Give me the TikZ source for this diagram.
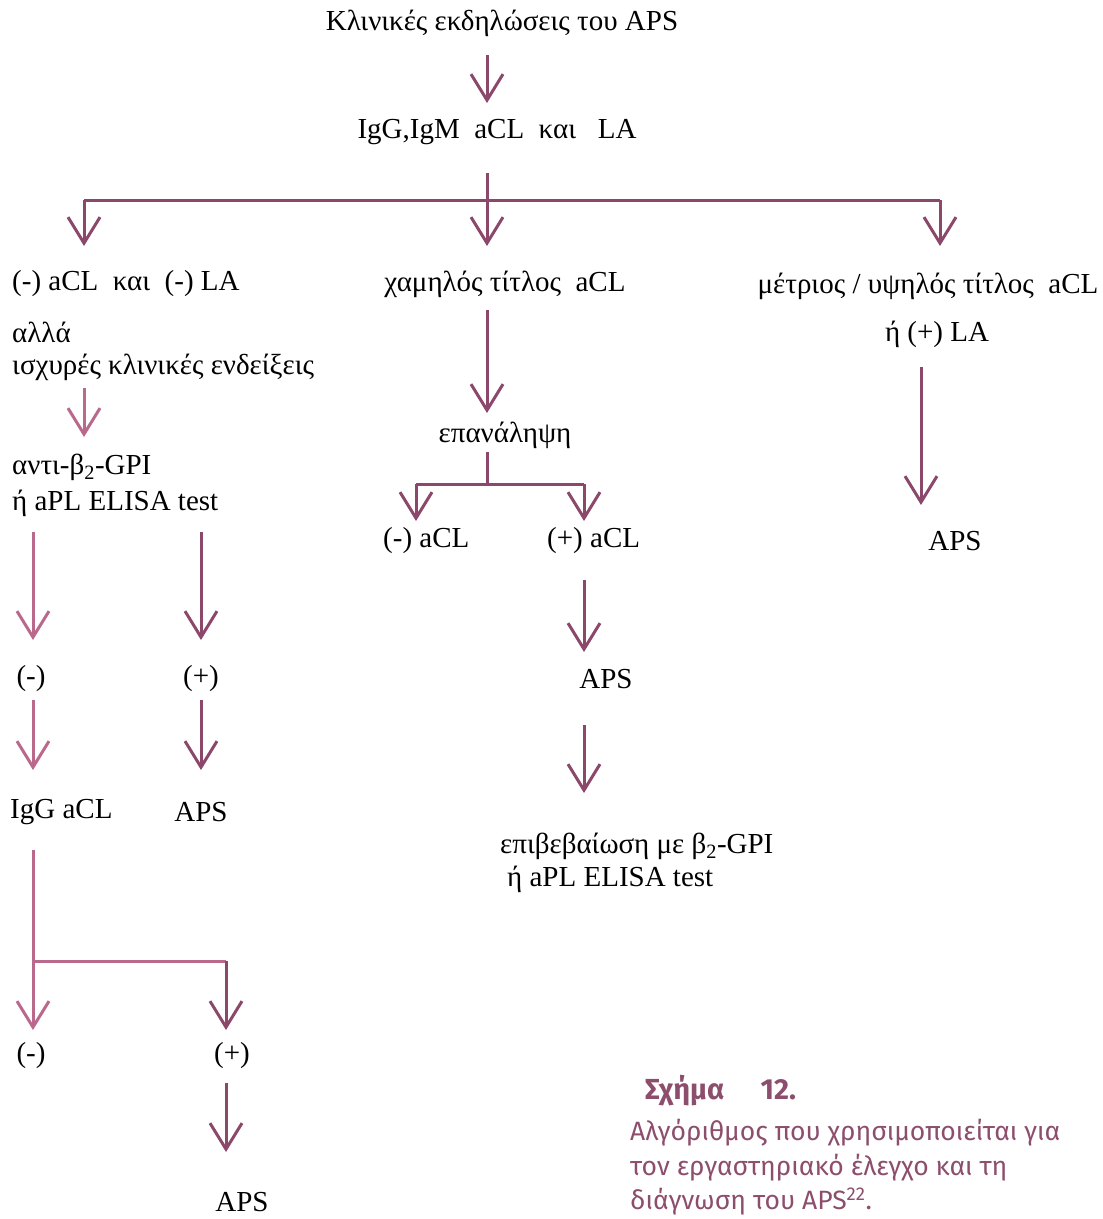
\documentclass[tikz,border=0pt]{standalone}
\usepackage{fontspec}
\setmainfont{Liberation Serif}
\newfontfamily\capfont{Fira Sans}
\usetikzlibrary{arrows.meta}
\definecolor{arr}{RGB}{140,72,106}
\definecolor{arrl}{RGB}{185,105,140}
\definecolor{capc}{RGB}{140,78,108}
\tikzset{
  lbl/.style={font=\fontsize{29}{34}\selectfont, inner sep=0pt},
  lblw/.style={lbl, anchor=west},
  conn/.style={draw=arr, line width=3pt, -{Straight Barb[length=26pt,width=32pt,line width=3pt]}},
  connl/.style={conn, draw=arrl, -{Straight Barb[length=26pt,width=32pt,line width=3pt]}},
  plain/.style={draw=arr, line width=3pt},
  plainl/.style={draw=arrl, line width=3pt},
  captxt/.style={font=\capfont\fontsize{26.5}{31}\selectfont, text=capc, anchor=west, inner sep=0pt}
}
\begin{document}
\begin{tikzpicture}[x=1pt,y=-1pt]
\useasboundingbox (0,0) rectangle (1103,1219);
% texts
\node[lbl] (t0) at (502,23) {Κλινικές εκδηλώσεις του APS};
\node[lbl] (t1) at (497,132) {IgG,IgM\ \ aCL\ \ και\ \ \ LA};
\node[lblw] (l1) at (12,284) {(-) aCL\ \ και\ \ (-) LA};
\node[lblw] (l2) at (12,332) {αλλά};
\node[lblw] (l3) at (12,367) {ισχυρές κλινικές ενδείξεις};
\node[lblw] (l4) at (12,467) {αντι-β\textsubscript{2}-GPI};
\node[lblw] (l5) at (12,503) {ή aPL ELISA test};
\node[lbl] (c1) at (505,284) {χαμηλός τίτλος\ \ aCL};
\node[lbl] (r1) at (928,286) {μέτριος / υψηλός τίτλος\ \ aCL};
\node[lbl] (r2) at (937,334) {ή (+) LA};
\node[lbl] (c2) at (505,435) {επανάληψη};
\node[lblw] (c3) at (383,541) {(-) aCL};
\node[lblw] (c4) at (547,541) {(+) aCL};
\node[lbl] (c5) at (606,679) {APS};
\node[lblw] (c6) at (500,846) {επιβεβαίωση με β\textsubscript{2}-GPI};
\node[lblw] (c7) at (507,879) {ή aPL ELISA test};
\node[lbl] (r3) at (955,541) {APS};
\node[lbl] (m1) at (31,679) {(-)};
\node[lbl] (p1) at (201,679) {(+)};
\node[lblw] (m2) at (10,812) {IgG aCL};
\node[lbl] (p2) at (201,812) {APS};
\node[lbl] (m3) at (31,1056) {(-)};
\node[lbl] (p3) at (232,1056) {(+)};
\node[lbl] (p4) at (242,1202) {APS};
% caption
\node[captxt, font=\capfont\bfseries\fontsize{29}{34}\selectfont] (cap1) at (645,1091) {Σχήμα\hspace{1.25em}12.};
\node[captxt] (cap2) at (630,1133) {Αλγόριθμος που χρησιμοποιείται για};
\node[captxt] (cap3) at (630,1168) {τον εργαστηριακό έλεγχο και τη};
\node[captxt] (cap4) at (630,1202) {διάγνωση του APS\textsuperscript{22}.};
% connector coordinates
\coordinate (a0s) at (487,55); \coordinate (a0e) at (487,103);
\coordinate (b0) at (487,173); \coordinate (b1) at (487,246);
\coordinate (bl) at (84,200); \coordinate (bl2) at (84,246);
\coordinate (br) at (940,200); \coordinate (br2) at (940,246);
\coordinate (d0) at (84,388); \coordinate (d1) at (84,437);
\coordinate (e0) at (487,310); \coordinate (e1) at (487,413);
\coordinate (f0) at (487,452); \coordinate (f1) at (487,484);
\coordinate (fl) at (416,484); \coordinate (fl2) at (416,521);
\coordinate (fr) at (584,484); \coordinate (fr2) at (584,521);
\coordinate (g0) at (584,580); \coordinate (g1) at (584,652);
\coordinate (h0) at (584,725); \coordinate (h1) at (584,793);
\coordinate (k0) at (921,367); \coordinate (k1) at (921,505);
\coordinate (m0) at (33,532); \coordinate (m0e) at (33,640);
\coordinate (n0) at (201,532); \coordinate (n0e) at (201,640);
\coordinate (m4) at (33,700); \coordinate (m4e) at (33,770);
\coordinate (n4) at (201,700); \coordinate (n4e) at (201,770);
\coordinate (q0) at (33,850); \coordinate (q1) at (33,1030);
\coordinate (qj) at (33,961); \coordinate (qr) at (226,961); \coordinate (qr2) at (226,1030);
\coordinate (s0) at (226,1083); \coordinate (s1) at (226,1152);
% connectors
\draw[conn] (a0s) -- (a0e);
\draw[conn] (b0) -- (b1);
\draw[plain] (bl) -- (br);
\draw[conn] (bl) -- (bl2);
\draw[conn] (br) -- (br2);
\draw[connl] (d0) -- (d1);
\draw[conn] (e0) -- (e1);
\draw[plain] (f0) -- (f1);
\draw[plain] (fl) -- (fr);
\draw[conn] (fl) -- (fl2);
\draw[conn] (fr) -- (fr2);
\draw[conn] (g0) -- (g1);
\draw[conn] (h0) -- (h1);
\draw[conn] (k0) -- (k1);
\draw[connl] (m0) -- (m0e);
\draw[conn] (n0) -- (n0e);
\draw[connl] (m4) -- (m4e);
\draw[conn] (n4) -- (n4e);
\draw[connl] (q0) -- (q1);
\draw[plainl] (qj) -- (qr);
\draw[conn] (qr) -- (qr2);
\draw[conn] (s0) -- (s1);
\end{tikzpicture}
\end{document}
